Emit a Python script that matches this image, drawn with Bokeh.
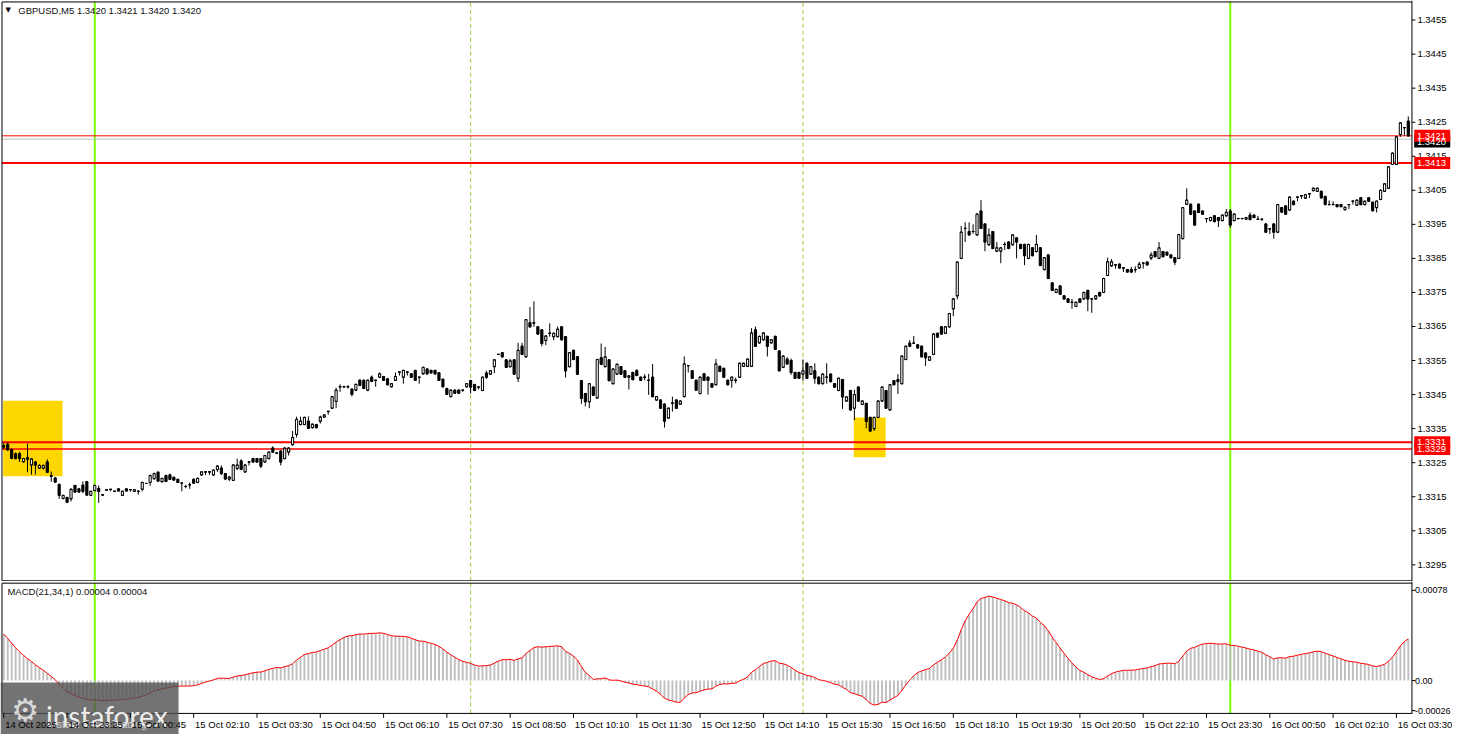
import numpy as np
from bokeh.plotting import figure
from bokeh.layouts import column
from bokeh.models import Range1d, ColumnDataSource
from bokeh.core.properties import value
from bokeh.embed import file_html
from bokeh.resources import INLINE

# ---------------- data (GBPUSD M5, prices as pips above 1.3300) ----------------
BASE = 1.3300
PIP = 0.0001

open_pips = [
    30.0, 30.4, 28.8, 27.6, 27.6, 25.3, 26.5, 24.3, 25.2, 23.4,
    23.4, 25.2, 21.2, 20.5, 18.6, 14.5, 14.8, 14.4, 18.3, 17.3,
    18.4, 19.4, 15.4, 16.8, 17.4, 15.6, 17.0, 17.2, 16.6, 17.3,
    15.4, 17.3, 17.1, 16.6, 16.6, 17.2, 18.9, 19.2, 20.3, 22.2,
    19.4, 21.2, 21.4, 20.7, 20.1, 19.0, 18.0, 18.5, 20.1, 19.2,
    21.4, 22.3, 22.3, 21.4, 23.0, 23.4, 21.8, 20.2, 19.8, 23.3,
    25.5, 22.3, 25.2, 26.2, 26.2, 26.2, 25.2, 26.2, 29.3, 27.8,
    28.4, 26.2, 28.1, 30.3, 33.3, 36.2, 36.2, 37.2, 35.3, 36.2,
    37.2, 38.4, 40.0, 41.0, 43.0, 47.3, 47.3, 47.3, 46.6, 46.3,
    49.2, 49.2, 46.3, 50.1, 49.2, 50.1, 50.3, 49.6, 47.3, 49.2,
    51.6, 50.1, 51.6, 51.1, 52.1, 50.1, 51.1, 52.5, 52.1, 52.1,
    51.4, 49.5, 46.8, 44.4, 46.3, 46.3, 46.3, 47.3, 49.1, 47.9,
    47.2, 46.2, 51.3, 51.0, 53.2, 56.8, 57.3, 55.2, 53.2, 55.2,
    49.8, 59.2, 56.1, 66.1, 66.1, 64.9, 64.0, 60.9, 63.0, 62.0,
    62.0, 64.9, 62.0, 53.2, 58.0, 56.1, 49.1, 45.3, 42.9, 47.2,
    44.0, 55.8, 53.2, 55.2, 48.2, 51.0, 53.2, 52.0, 50.1, 51.5,
    52.0, 50.1, 50.1, 49.2, 50.1, 43.4, 43.4, 42.2, 38.1, 42.5,
    43.4, 42.2, 44.4, 53.5, 52.0, 49.2, 45.3, 51.1, 50.1, 48.2,
    47.9, 53.3, 52.7, 49.2, 49.2, 49.2, 50.1, 53.3, 53.3, 53.3,
    64.0, 60.2, 61.1, 62.1, 60.2, 62.1, 57.8, 53.0, 55.4, 55.0,
    51.5, 51.5, 51.0, 54.2, 51.0, 52.0, 50.1, 48.2, 50.1, 51.0,
    48.2, 46.2, 49.4, 43.1, 46.2, 41.0, 47.2, 42.1, 42.4, 38.3,
    35.0, 38.3, 43.1, 46.2, 40.5, 49.1, 49.4, 48.2, 55.3, 60.1,
    60.1, 59.6, 59.2, 57.2, 55.1, 56.8, 63.0, 64.9, 63.0, 64.9,
    70.2, 74.0, 85.0, 93.8, 92.9, 92.9, 91.9, 98.9, 95.1, 89.0,
    92.9, 87.1, 87.1, 89.1, 89.8, 89.0, 91.0, 89.1, 89.1, 85.0,
    88.1, 87.0, 88.1, 81.7, 86.0, 77.8, 75.0, 76.9, 74.0, 73.1,
    72.1, 70.9, 73.1, 73.1, 75.6, 73.1, 73.1, 75.0, 75.0, 80.0,
    82.8, 83.1, 83.3, 82.2, 81.7, 81.7, 81.7, 82.2, 83.6, 83.9,
    85.1, 87.0, 85.0, 87.0, 86.8, 86.0, 85.2, 85.0, 90.8, 100.9,
    100.9, 98.9, 100.9, 98.9, 96.7, 96.1, 97.5, 97.0, 96.1, 97.5,
    98.9, 96.1, 96.7, 96.7, 96.5, 97.7, 97.7, 96.5, 96.5, 95.1,
    93.7, 95.1, 92.7, 99.9, 100.4, 99.2, 101.8, 103.0, 103.4, 102.7,
    104.0, 104.9, 104.7, 104.7, 103.2, 100.8, 100.8, 100.8, 100.8, 99.3,
    100.8, 101.8, 100.6, 102.8, 100.8, 102.8, 101.5, 99.9, 102.3, 104.7,
    105.6, 112.6, 112.6, 121.4, 123.4, 125.3,
]

high_pips = [
    30.8, 31.0, 29.2, 28.0, 28.2, 26.4, 30.6, 26.3, 25.5, 24.5,
    24.4, 26.0, 22.4, 20.8, 18.9, 15.5, 14.9, 17.4, 18.5, 17.6,
    19.5, 19.6, 16.7, 18.6, 18.3, 15.7, 17.1, 17.2, 16.7, 17.4,
    16.7, 17.4, 17.2, 17.2, 16.8, 19.4, 19.0, 21.5, 22.1, 22.4,
    20.4, 21.5, 21.8, 20.9, 20.3, 19.1, 18.5, 19.2, 20.4, 20.6,
    22.4, 22.4, 22.4, 23.0, 24.3, 24.2, 22.0, 21.0, 24.6, 26.2,
    26.0, 24.6, 25.3, 26.4, 26.4, 26.4, 27.3, 28.3, 29.8, 28.1,
    28.6, 29.5, 29.5, 34.3, 38.5, 38.5, 38.5, 38.6, 36.5, 36.4,
    38.8, 39.2, 40.2, 44.6, 47.0, 48.0, 47.6, 47.8, 46.8, 48.2,
    49.5, 49.4, 49.4, 50.6, 49.3, 51.5, 50.5, 49.8, 48.4, 51.5,
    51.7, 52.3, 51.7, 51.3, 52.3, 50.2, 53.2, 52.7, 52.3, 52.3,
    51.6, 49.7, 47.0, 46.5, 46.5, 46.5, 46.4, 48.4, 49.3, 48.2,
    47.3, 50.3, 52.0, 52.2, 55.4, 57.0, 57.5, 55.4, 55.5, 55.4,
    60.2, 60.2, 67.2, 70.7, 72.4, 65.1, 64.2, 62.4, 65.9, 63.2,
    65.0, 65.1, 62.2, 57.5, 58.2, 56.3, 49.3, 45.5, 48.4, 47.4,
    55.5, 60.0, 59.0, 55.4, 52.7, 54.1, 53.4, 52.2, 50.7, 51.7,
    52.5, 50.3, 51.0, 51.1, 54.0, 44.6, 43.6, 42.4, 41.2, 44.4,
    43.6, 43.3, 56.2, 53.6, 52.2, 49.4, 50.3, 51.3, 50.3, 48.4,
    55.5, 53.5, 52.9, 49.4, 50.3, 50.0, 54.4, 54.4, 55.6, 64.5,
    65.0, 62.3, 63.3, 62.3, 61.3, 62.3, 58.0, 56.5, 56.0, 55.6,
    51.7, 51.7, 55.3, 54.4, 53.4, 54.2, 50.3, 51.2, 54.2, 51.2,
    48.4, 50.0, 49.6, 44.5, 46.4, 46.4, 47.4, 43.3, 42.6, 38.5,
    38.5, 43.3, 47.4, 46.4, 48.1, 49.3, 51.0, 56.5, 59.4, 61.0,
    62.2, 59.8, 59.4, 57.4, 56.3, 63.0, 63.2, 65.1, 65.1, 69.0,
    73.3, 84.1, 94.5, 95.6, 95.6, 95.0, 98.2, 102.1, 95.3, 93.8,
    93.1, 89.8, 88.3, 89.8, 90.0, 92.1, 91.2, 89.3, 89.3, 89.3,
    88.3, 91.9, 88.3, 85.4, 86.2, 78.0, 76.1, 77.1, 74.2, 73.3,
    73.1, 72.3, 73.3, 75.2, 75.8, 73.3, 74.2, 75.2, 79.3, 85.2,
    84.8, 83.2, 83.5, 82.3, 81.9, 82.5, 82.7, 84.0, 83.7, 84.1,
    86.8, 87.2, 89.8, 87.2, 87.0, 86.2, 85.4, 92.2, 100.1, 105.6,
    101.1, 99.1, 101.1, 99.1, 96.8, 97.2, 97.7, 97.2, 97.9, 99.5,
    99.5, 98.2, 96.9, 96.9, 97.2, 98.5, 97.9, 97.5, 96.6, 95.3,
    93.8, 95.3, 101.0, 100.1, 100.6, 103.2, 102.0, 103.1, 103.5, 103.9,
    104.1, 105.8, 105.8, 104.9, 103.4, 102.0, 101.8, 101.0, 101.0, 100.2,
    100.9, 101.9, 102.3, 103.0, 102.0, 103.0, 101.7, 102.0, 105.2, 107.1,
    112.1, 116.1, 120.9, 125.0, 123.5, 126.7,
]

low_pips = [
    29.0, 28.4, 26.0, 26.0, 25.2, 25.0, 22.2, 21.5, 21.5, 23.2,
    23.0, 22.0, 19.4, 19.2, 14.4, 14.2, 13.2, 13.6, 16.2, 16.2,
    16.0, 15.4, 15.2, 16.6, 13.2, 15.2, 16.9, 16.6, 16.5, 16.6,
    15.3, 16.6, 16.5, 16.5, 15.6, 16.6, 18.8, 18.2, 20.0, 19.4,
    19.2, 19.4, 20.0, 19.7, 19.0, 16.6, 17.5, 17.3, 18.8, 19.0,
    21.2, 21.4, 21.4, 21.2, 22.3, 21.4, 19.9, 19.6, 19.6, 22.8,
    22.8, 22.0, 24.2, 25.0, 25.0, 23.4, 25.0, 26.0, 28.0, 27.5,
    24.2, 26.0, 27.1, 30.0, 32.4, 36.0, 36.0, 35.0, 35.0, 35.0,
    36.5, 38.2, 39.1, 40.8, 41.0, 45.8, 47.0, 46.8, 44.5, 46.0,
    47.5, 46.6, 46.0, 48.7, 47.3, 49.9, 49.0, 47.7, 47.1, 49.0,
    50.6, 48.2, 50.6, 49.9, 49.0, 48.2, 50.9, 50.9, 51.2, 50.9,
    49.0, 47.1, 44.9, 44.2, 45.2, 45.2, 45.8, 47.1, 45.3, 46.0,
    46.5, 46.0, 49.6, 50.8, 51.3, 56.6, 55.9, 52.8, 53.0, 50.8,
    48.7, 56.6, 55.9, 64.7, 64.9, 62.6, 59.2, 59.5, 62.0, 61.0,
    61.8, 60.9, 50.0, 53.0, 55.1, 50.8, 42.3, 41.5, 41.0, 44.6,
    43.8, 53.7, 53.0, 48.9, 48.0, 50.8, 50.8, 49.9, 46.5, 49.2,
    50.4, 49.0, 49.2, 44.9, 44.2, 43.2, 40.8, 35.3, 37.9, 40.0,
    40.8, 42.0, 44.2, 51.5, 49.6, 46.1, 45.1, 49.0, 45.0, 47.0,
    47.7, 51.6, 49.9, 47.7, 47.0, 48.3, 49.9, 53.1, 53.1, 53.1,
    59.0, 60.0, 60.9, 56.2, 60.0, 58.1, 51.8, 52.8, 53.8, 50.8,
    49.6, 49.6, 49.1, 49.6, 50.8, 48.2, 48.0, 48.0, 48.2, 48.6,
    47.0, 46.0, 40.8, 42.9, 40.3, 37.5, 42.9, 41.9, 35.1, 34.1,
    34.3, 38.1, 42.9, 40.8, 40.3, 47.7, 45.2, 48.0, 55.1, 59.0,
    59.9, 58.5, 55.9, 53.4, 54.9, 56.6, 61.7, 62.6, 62.8, 64.7,
    68.0, 73.0, 84.8, 89.8, 91.7, 92.2, 91.7, 93.6, 87.1, 88.8,
    87.7, 86.9, 83.6, 87.5, 87.7, 88.8, 85.0, 87.7, 83.0, 84.8,
    85.6, 86.8, 82.7, 81.5, 78.9, 75.4, 74.8, 74.3, 72.9, 71.9,
    70.2, 70.7, 71.9, 72.9, 69.5, 69.0, 72.9, 73.8, 74.8, 79.8,
    82.6, 82.0, 82.0, 81.0, 80.8, 80.8, 80.8, 82.0, 82.0, 82.9,
    84.5, 85.3, 84.8, 85.3, 85.8, 85.0, 83.0, 84.8, 90.6, 100.7,
    97.8, 94.6, 98.3, 97.8, 95.5, 95.9, 95.6, 94.2, 95.9, 97.3,
    94.0, 95.9, 96.5, 96.5, 96.3, 96.2, 96.8, 96.4, 96.0, 92.5,
    92.2, 90.8, 92.5, 98.4, 97.8, 99.0, 100.6, 101.8, 102.5, 102.5,
    102.7, 104.7, 104.5, 102.6, 100.6, 100.7, 100.7, 100.0, 100.0, 99.1,
    99.5, 100.8, 100.4, 100.6, 100.6, 101.6, 98.8, 98.5, 102.1, 104.5,
    105.4, 112.4, 112.4, 120.7, 121.0, 120.8,
]

close_pips = [
    29.6, 28.8, 26.3, 26.2, 26.2, 26.2, 26.0, 26.1, 24.3, 24.2,
    24.2, 22.2, 21.0, 19.3, 15.4, 15.4, 13.4, 17.2, 16.4, 16.4,
    16.6, 15.5, 16.6, 18.3, 16.6, 15.5, 17.0, 17.1, 16.6, 16.7,
    16.6, 16.7, 17.1, 17.1, 16.6, 19.2, 18.9, 21.2, 21.8, 19.6,
    20.4, 19.5, 20.1, 19.9, 19.2, 19.0, 18.0, 18.5, 19.0, 20.4,
    22.3, 22.3, 22.3, 22.8, 24.0, 21.8, 20.2, 20.8, 24.3, 24.3,
    23.0, 24.3, 25.2, 25.2, 25.2, 24.0, 27.1, 28.1, 28.1, 27.8,
    25.2, 29.3, 29.3, 32.4, 37.7, 37.2, 38.3, 35.1, 36.3, 35.3,
    38.4, 39.0, 40.1, 44.4, 46.3, 47.3, 47.3, 47.3, 45.1, 48.0,
    47.7, 46.8, 49.2, 48.9, 49.2, 51.1, 49.2, 47.9, 48.2, 50.3,
    51.6, 52.1, 51.6, 50.1, 49.2, 50.1, 53.0, 51.1, 51.4, 51.1,
    49.2, 47.3, 45.1, 46.3, 45.4, 45.4, 46.3, 48.2, 47.2, 46.2,
    47.2, 50.1, 50.1, 52.0, 55.2, 56.8, 56.1, 53.0, 54.9, 51.0,
    58.0, 56.8, 67.0, 64.9, 66.0, 62.8, 60.0, 62.2, 63.0, 63.0,
    64.2, 61.1, 52.0, 57.3, 55.3, 51.0, 43.9, 42.9, 48.2, 44.8,
    55.3, 53.9, 56.1, 49.1, 52.5, 53.9, 51.0, 50.1, 50.5, 49.4,
    50.6, 49.2, 50.1, 49.2, 44.4, 44.4, 41.0, 37.2, 41.0, 42.5,
    41.0, 43.1, 54.0, 53.5, 49.8, 46.3, 50.1, 49.2, 49.2, 47.2,
    54.0, 51.8, 50.1, 47.9, 50.1, 49.2, 54.2, 54.2, 55.4, 63.1,
    59.2, 62.1, 63.1, 59.2, 61.1, 58.3, 52.0, 56.3, 54.0, 51.5,
    49.8, 49.8, 52.0, 49.8, 53.2, 49.8, 48.2, 51.0, 50.1, 48.8,
    47.2, 49.8, 44.3, 44.3, 40.5, 45.0, 43.1, 43.1, 37.1, 34.3,
    38.3, 43.1, 47.2, 41.0, 47.9, 47.9, 48.8, 56.3, 59.2, 59.2,
    60.1, 58.7, 56.1, 55.8, 56.1, 62.8, 61.9, 62.8, 64.9, 68.8,
    73.1, 83.9, 92.7, 93.8, 91.9, 92.9, 98.0, 93.8, 89.8, 91.9,
    87.9, 88.1, 88.1, 89.1, 87.9, 91.9, 89.8, 87.9, 85.8, 89.1,
    85.8, 89.1, 82.9, 85.2, 79.1, 75.6, 75.9, 74.5, 73.1, 72.1,
    72.1, 72.1, 72.1, 75.0, 73.1, 73.1, 74.0, 74.0, 79.1, 84.0,
    84.0, 83.1, 82.2, 82.2, 81.0, 81.0, 81.7, 83.3, 83.6, 83.1,
    86.0, 85.5, 88.1, 85.5, 86.0, 85.2, 83.9, 92.0, 99.9, 102.1,
    98.0, 94.8, 98.5, 98.0, 96.7, 97.0, 95.8, 96.1, 97.7, 98.5,
    94.8, 98.0, 96.7, 96.7, 97.0, 96.4, 97.0, 96.5, 96.5, 92.7,
    93.7, 92.7, 100.8, 98.6, 98.0, 103.0, 100.8, 103.0, 103.4, 103.7,
    104.0, 105.6, 105.6, 102.8, 100.8, 100.8, 100.8, 100.2, 100.2, 100.0,
    100.8, 101.8, 102.1, 100.8, 101.8, 101.8, 99.0, 101.8, 105.0, 106.9,
    111.9, 115.9, 120.7, 124.8, 123.4, 121.0,
]

time_labels = [
    "14 Oct 2025", "14 Oct 23:25", "15 Oct 00:45", "15 Oct 02:10", "15 Oct 03:30",
    "15 Oct 04:50", "15 Oct 06:10", "15 Oct 07:30", "15 Oct 08:50", "15 Oct 10:10",
    "15 Oct 11:30", "15 Oct 12:50", "15 Oct 14:10", "15 Oct 15:30", "15 Oct 16:50",
    "15 Oct 18:10", "15 Oct 19:30", "15 Oct 20:50", "15 Oct 22:10", "15 Oct 23:30",
    "16 Oct 00:50", "16 Oct 02:10", "16 Oct 03:30",
]
label_bars = [1 + 16 * j for j in range(len(time_labels))]

price_ticks = [1.3295, 1.3305, 1.3315, 1.3325, 1.3335, 1.3345, 1.3355, 1.3365, 1.3375,
               1.3385, 1.3395, 1.3405, 1.3415, 1.3425, 1.3435, 1.3445, 1.3455]
macd_ticks = [0.00078, 0.0, -0.00026]
macd_tick_labels = ["0.00078", "0.00", "-0.00026"]

levels = [1.3413, 1.3331, 1.3329]          # red support/resistance lines
level_widths = [2, 2, 1.5]
ask_price = 1.3421
bid_price = 1.3420
header = "GBPUSD,M5  1.3420 1.3421 1.3420 1.3420"
macd_header = "MACD(21,34,1) 0.00004 0.00004"

zone_bars = [(0.85, 15.85), (215.85, 223.9)]          # yellow signal boxes (bar index span)
zone_prices = [(1.33210, 1.33432), (1.33266, 1.33383)]

day_start_bars = [24, 311]        # green solid separators
session_bars = [119, 203]         # dashed separators

macd_fast, macd_slow = 21, 34
macd_seed_fast, macd_seed_slow = 1.33335, 1.33291

# ---------------- layout helpers (reference-pixel -> data) ----------------
def kx(px):          # horizontal pixel of the original window -> bar index
    return 1 + (px - 3.3) / 4.0

def pyp(py):         # vertical pixel (price window) -> price
    return 1.3455 - (py - 20) / 34810.0

def pym(py):         # vertical pixel (indicator window) -> MACD value
    return (695 - py) / 117950.0

FONT = value("Liberation Sans")
FS = value("9.5px")
W = 1452
H1, H2 = 581, 153
X0, XE = kx(0), kx(1468)
SEP = kx(1427)
LB = kx(1.5)

# ---------------- derived ----------------
n = len(close_pips)
x = np.arange(1, n + 1)
o = BASE + np.array(open_pips) * PIP
h = BASE + np.array(high_pips) * PIP
l = BASE + np.array(low_pips) * PIP
c = BASE + np.array(close_pips) * PIP
top = np.maximum(o, c)
bot = np.minimum(o, c)
hi = np.maximum(h, top)
lo = np.minimum(l, bot)
fill = ["white" if cc >= oo else "black" for oo, cc in zip(o, c)]

ef, es = macd_seed_fast, macd_seed_slow
macd = []
for cc in c:
    ef += (cc - ef) * 2.0 / (macd_fast + 1)
    es += (cc - es) * 2.0 / (macd_slow + 1)
    macd.append(ef - es)
macd = np.array(macd)

src = ColumnDataSource(dict(x=x, top=top, bot=bot, hi=hi, lo=lo, fill=fill,
                            o=o, c=c, xl=x - 0.3, xr=x + 0.3))

def make_fig(height, yr):
    p = figure(width=W, height=height, x_range=Range1d(X0, XE), y_range=Range1d(*yr),
               output_backend="svg", toolbar_location=None,
               x_axis_location=None, y_axis_location=None)
    p.min_border_left = p.min_border_right = p.min_border_top = p.min_border_bottom = 0
    p.grid.visible = False
    p.outline_line_color = None
    p.background_fill_color = "white"
    p.border_fill_color = "white"
    return p

p1 = make_fig(H1, (pyp(594), pyp(0)))
p2 = make_fig(H2, (pym(750), pym(594)))
p2.x_range = p1.x_range

P_TOP, P_BOT = pyp(1.5), pyp(593.3)
M_TOP, M_BOT = pym(595.7), pym(728.5)

# ----- price window -----
for (b0, b1), (pl, ph) in zip(zone_bars, zone_prices):
    p1.quad(left=b0, right=b1, bottom=pl, top=ph, fill_color="#FFD700", line_color=None)

for p, yb, yt in ((p1, P_BOT, P_TOP), (p2, M_BOT, M_TOP)):
    p.segment(x0=session_bars, y0=yb, x1=session_bars, y1=yt,
              line_color="#9ACD32", line_width=1, line_dash="4 3")
    p.segment(x0=day_start_bars, y0=yb, x1=day_start_bars, y1=yt,
              line_color="#7CFC00", line_width=2)

p1.segment(x0=LB, y0=bid_price, x1=SEP, y1=bid_price, line_color="#C0C0C0", line_width=1)
p1.segment(x0=LB, y0=ask_price, x1=SEP, y1=ask_price, line_color="#FF0000", line_width=1)
p1.segment(x0=[LB] * len(levels), y0=levels, x1=[SEP] * len(levels), y1=levels,
           line_color="#FF0000", line_width=level_widths)

p1.segment(x0="x", y0="lo", x1="x", y1="hi", source=src, line_color="black", line_width=1)
p1.vbar(x="x", width=0.55, top="top", bottom="bot", source=src, fill_color="fill",
        line_color="black", line_width=1)
p1.segment(x0="xl", y0="o", x1="xr", y1="o", source=src, line_color="black", line_width=1)
p1.segment(x0="xl", y0="c", x1="xr", y1="c", source=src, line_color="black", line_width=1)

# window border + price scale
p1.segment(x0=[LB, LB, LB, SEP], y0=[P_TOP, P_BOT, P_BOT, pyp(594)],
           x1=[SEP, SEP, LB, SEP], y1=[P_TOP, P_BOT, P_TOP, pyp(0)],
           line_color="black", line_width=1)
p1.segment(x0=[SEP] * len(price_ticks), y0=price_ticks,
           x1=[kx(1430.5)] * len(price_ticks), y1=price_ticks, line_color="black")
p1.text(x=[kx(1432.5)] * len(price_ticks), y=price_ticks,
        text=["%.4f" % t for t in price_ticks], text_font=FONT, text_font_size=FS,
        text_color="black", text_align="left", text_baseline="middle")

# price tags on the scale
tag_y = [bid_price - 0.00007, ask_price] + levels
tag_txt = ["%.4f" % bid_price, "%.4f" % ask_price] + ["%.4f" % v for v in levels]
tag_bg = ["black", "#FF0000"] + ["#FF0000"] * len(levels)
p1.rect(x=[kx(1447.5)] * len(tag_y), y=tag_y, width=36, height=12,
        width_units="screen", height_units="screen", fill_color=tag_bg, line_color=None)
p1.text(x=[kx(1432)] * len(tag_y), y=tag_y, text=tag_txt, text_font=FONT,
        text_font_size=FS, text_color="white", text_align="left", text_baseline="middle")

# header
p1.text(x=[kx(5)], y=[pyp(10)], text=["\u25BC"], text_font=value("DejaVu Sans"),
        text_font_size=value("7px"), text_color="black", text_baseline="middle")
p1.text(x=[kx(18)], y=[pyp(10)], text=[header], text_font=FONT, text_font_size=FS,
        text_color="#101010", text_baseline="middle")

# ----- MACD window -----
p2.vbar(x=x, width=0.5, top=macd, bottom=0, fill_color="#C0C0C0", line_color=None)
p2.line(x=x, y=macd, line_color="#FF0000", line_width=1)

p2.segment(x0=[LB, LB, LB, SEP], y0=[M_TOP, M_BOT, M_BOT, pym(594)],
           x1=[SEP, SEP, LB, SEP], y1=[M_TOP, M_BOT, M_TOP, pym(729)],
           line_color="black", line_width=1)
p2.segment(x0=[SEP] * len(macd_ticks), y0=macd_ticks,
           x1=[kx(1430.5)] * len(macd_ticks), y1=macd_ticks, line_color="black")
p2.text(x=[kx(1430)] * len(macd_ticks), y=macd_ticks, text=macd_tick_labels,
        text_font=FONT, text_font_size=value("9px"), text_color="black",
        text_align="left", text_baseline="middle")
p2.text(x=[kx(7)], y=[pym(604)], text=[macd_header], text_font=FONT, text_font_size=FS,
        text_color="#101010", text_baseline="middle")

# watermark logo (semi-transparent, behind the time scale text)
p2.quad(left=X0, right=kx(180), bottom=pym(750), top=pym(697),
        fill_color="#505050", fill_alpha=0.8, line_color=None)
p2.text(x=[kx(25)], y=[pym(725)], text=["\u2699"], text_font=value("DejaVu Sans"),
        text_font_size=value("31px"), text_color="#e6e6e6", text_alpha=0.9,
        text_align="center", text_baseline="middle")
p2.text(x=[kx(46)], y=[pym(731)], text=["instaforex"], text_font=value("Lato"),
        text_font_size=value("28px"), text_color="white", text_alpha=0.9,
        text_baseline="alphabetic")
p2.text(x=[kx(48)], y=[pym(745)], text=["Instant Forex Trading"], text_font=FONT,
        text_font_size=value("10.5px"), text_color="#d4d4d4", text_baseline="bottom")

# time scale
p2.segment(x0=label_bars, y0=M_BOT, x1=label_bars, y1=pym(733), line_color="black")
p2.text(x=[b + 0.35 for b in label_bars], y=pym(734.5), text=time_labels, text_font=FONT,
        text_font_size=FS, text_color="black", text_align="left", text_baseline="top")

layout = column(p1, p2, spacing=0)
open("out.html", "w").write(file_html(layout, INLINE))
